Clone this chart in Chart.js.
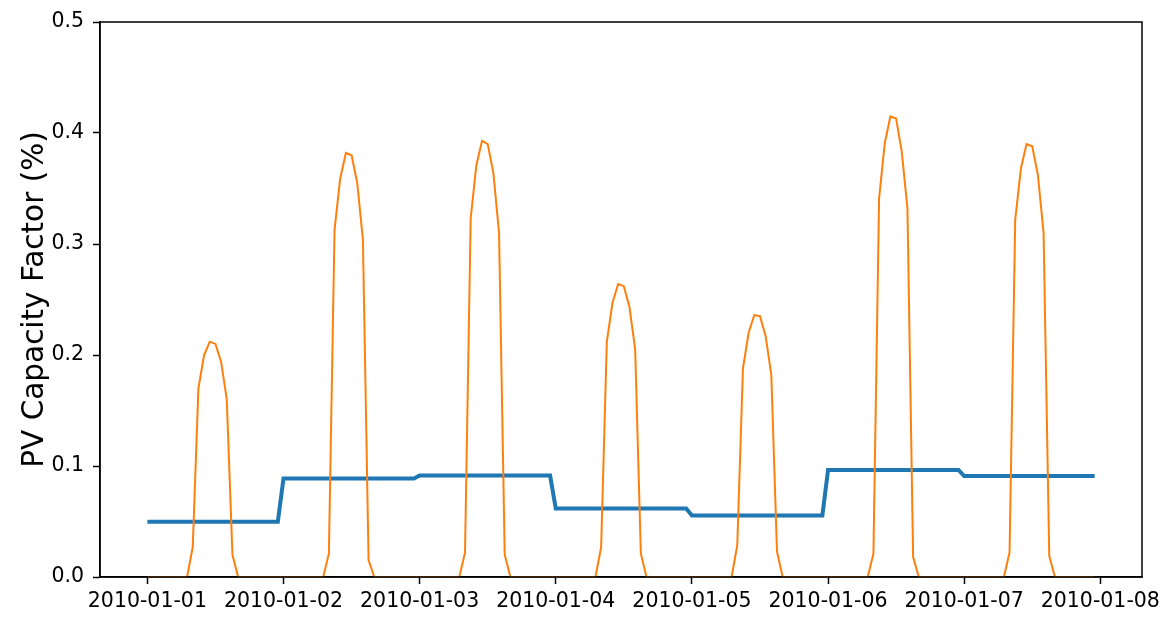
<!DOCTYPE html>
<html>
<head>
<meta charset="utf-8">
<script src="https://cdn.jsdelivr.net/npm/chart.js@4/dist/chart.umd.min.js"></script>
<style>
  html, body { margin: 0; padding: 0; background: #ffffff; }
  #wrap { width: 1176px; height: 628px; }
</style>
</head>
<body>
<div id="wrap"><canvas id="pvChart" width="1176" height="628"></canvas></div>
<script>
'use strict';

// ── Data ────────────────────────────────────────────────────
// x positions are hours since 2010-01-01 00:00
const dateLabels = ['2010-01-01', '2010-01-02', '2010-01-03', '2010-01-04',
                    '2010-01-05', '2010-01-06', '2010-01-07', '2010-01-08'];
const yTickLabels = ['0.0', '0.1', '0.2', '0.3', '0.4', '0.5'];

// hourly PV capacity factor, one row per day (hours 0..23)
const pvHourly = [
  0,0,0,0,0,0,0,0, 0.027,0.170,0.200,0.212,0.210,0.194,0.160,0.020, 0,0,0,0,0,0,0,0,
  0,0,0,0,0,0,0,0, 0.021,0.313,0.359,0.382,0.380,0.355,0.304,0.015, 0,0,0,0,0,0,0,0,
  0,0,0,0,0,0,0,0, 0.022,0.323,0.371,0.393,0.390,0.364,0.310,0.020, 0,0,0,0,0,0,0,0,
  0,0,0,0,0,0,0,0, 0.027,0.212,0.247,0.264,0.262,0.243,0.205,0.021, 0,0,0,0,0,0,0,0,
  0,0,0,0,0,0,0,0, 0.029,0.188,0.220,0.236,0.235,0.217,0.182,0.023, 0,0,0,0,0,0,0,0,
  0,0,0,0,0,0,0,0, 0.021,0.341,0.391,0.415,0.413,0.383,0.332,0.018, 0,0,0,0,0,0,0,0,
  0,0,0,0,0,0,0,0, 0.022,0.322,0.368,0.390,0.388,0.362,0.310,0.019, 0,0,0,0,0,0,0,0
];

// daily mean capacity factor (blue step line)
const dailyMean = [0.0497, 0.0887, 0.0914, 0.0617, 0.0554, 0.0964, 0.0909];

// ── Build point lists ───────────────────────────────────────
const hourlyPoints = pvHourly.map((v, h) => ({ x: h, y: v }));
const meanPoints = pvHourly.map((v, h) => ({ x: h, y: dailyMean[Math.floor(h / 24)] }));

const FONT = '"DejaVu Sans", Verdana, sans-serif';

// axes box (top + right spines like matplotlib)
const frame = {
  id: 'frame',
  afterDatasetsDraw(chart) {
    const { ctx, chartArea: a } = chart;
    ctx.save();
    ctx.strokeStyle = '#000';
    ctx.lineWidth = 1.5;
    ctx.strokeRect(a.left, a.top, a.right - a.left, a.bottom - a.top);
    ctx.restore();
  }
};

new Chart(document.getElementById('pvChart').getContext('2d'), {
  type: 'line',
  data: {
    datasets: [
      {
        label: 'hourly',
        data: hourlyPoints,
        borderColor: '#ff7f0e',
        borderWidth: 2,
        pointRadius: 0,
        tension: 0,
        fill: false,
        order: 1
      },
      {
        label: 'daily mean',
        data: meanPoints,
        borderColor: '#1f77b4',
        borderWidth: 4,
        pointRadius: 0,
        tension: 0,
        fill: false,
        order: 2
      }
    ]
  },
  options: {
    responsive: false,
    animation: false,
    layout: { padding: { left: 0, top: 22, right: 34, bottom: 0 } },
    plugins: {
      legend: { display: false },
      tooltip: { enabled: false }
    },
    scales: {
      x: {
        type: 'linear',
        min: -8.35,
        max: 175.35,
        afterBuildTicks: scale => {
          scale.ticks = dateLabels.map((d, i) => ({ value: i * 24 }));
        },
        afterFit: scale => { scale.height = 51; },
        ticks: {
          autoSkip: false,
          maxRotation: 0,
          padding: 5,
          color: '#000',
          font: { family: FONT, size: 20.5 },
          callback: v => dateLabels[Math.round(v / 24)]
        },
        grid: {
          drawOnChartArea: false,
          drawTicks: true,
          tickLength: 7,
          tickWidth: 1.5,
          tickColor: '#000'
        },
        border: { color: '#000', width: 1.5 }
      },
      y: {
        min: 0,
        max: 0.5,
        afterBuildTicks: scale => {
          scale.ticks = yTickLabels.map(t => ({ value: parseFloat(t) }));
        },
        afterFit: scale => { scale.width = 100; },
        ticks: {
          padding: 9,
          color: '#000',
          font: { family: FONT, size: 20.5 },
          callback: (v, i) => yTickLabels[i]
        },
        grid: {
          drawOnChartArea: false,
          drawTicks: true,
          tickLength: 7,
          tickWidth: 1.5,
          tickColor: '#000'
        },
        border: { color: '#000', width: 1.5 },
        title: {
          display: true,
          text: 'PV Capacity Factor (%)',
          color: '#000',
          font: { family: FONT, size: 29.5 },
          padding: { top: 18, bottom: 0 }
        }
      }
    }
  },
  plugins: [frame]
});
</script>
</body>
</html>
